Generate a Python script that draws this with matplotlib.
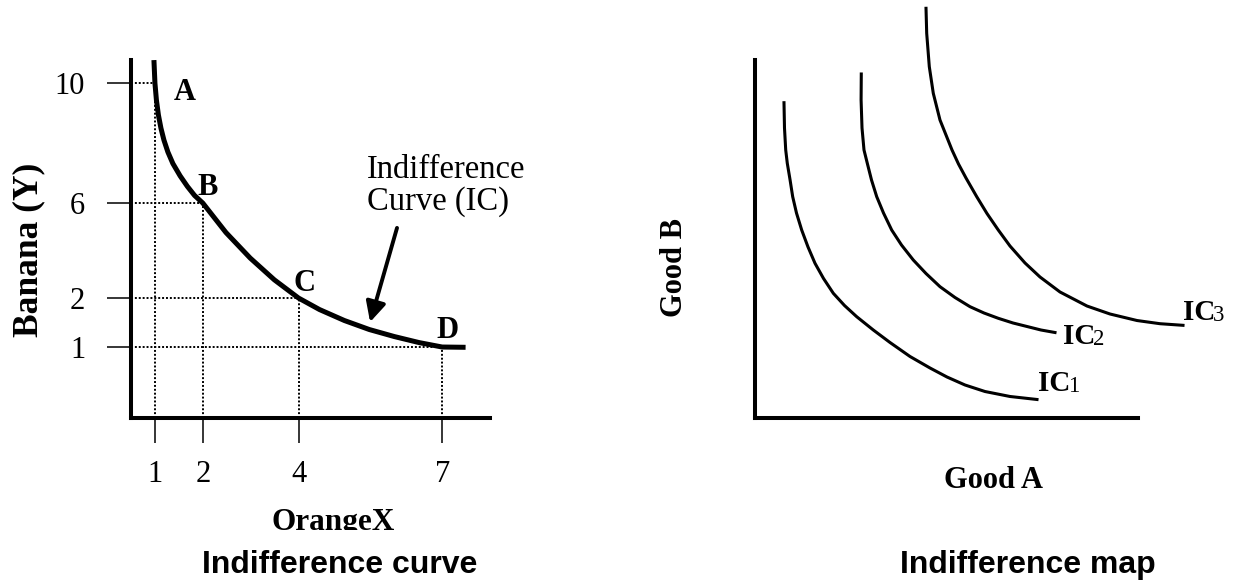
import numpy as np
import matplotlib.pyplot as plt
from matplotlib.transforms import Bbox, TransformedBbox

plt.rcParams['font.family'] = ['Liberation Serif', 'DejaVu Serif']

# --- left chart: one indifference curve with points A..D
point_names = ['A', 'B', 'C', 'D']
orange_x = [1, 2, 4, 7]
banana_y = [10, 6, 2, 1]

# curve
ic_x = [0.979, 1.0, 1.031, 1.073, 1.125, 1.188, 1.271, 1.375, 1.526, 1.677, 1.828, 2.0,
        2.484, 2.990, 3.495, 4.0, 4.438, 4.958, 5.479, 6.0, 6.521, 7.0, 7.49]
ic_y = [10.767, 10.0, 9.433, 8.933, 8.5, 8.1, 7.7, 7.317, 6.907, 6.557, 6.253, 6.0,
        4.758, 3.684, 2.766, 2.0, 1.765, 1.541, 1.357, 1.214, 1.09, 1.0, 0.996]

# --- right chart: indifference map (no units, traced)
ic1_x = [0.757, 0.770, 0.802, 0.843, 0.914, 0.984, 1.083, 1.219, 1.384, 1.567, 1.789, 2.045,
         2.337, 2.655, 3.089, 3.525, 4.047, 4.569, 5.013, 5.483, 6.005, 6.658, 7.363]
ic1_y = [8.807, 8.101, 7.486, 7.115, 6.662, 6.182, 5.726, 5.251, 4.777, 4.321, 3.897, 3.483,
         3.142, 2.830, 2.458, 2.109, 1.718, 1.397, 1.145, 0.922, 0.740, 0.601, 0.517]
ic2_x = [2.775, 2.770, 2.794, 2.846, 2.932, 3.042, 3.178, 3.355, 3.569, 3.825, 4.133, 4.465,
         4.830, 5.222, 5.614, 5.979, 6.352, 6.736, 7.102, 7.467, 7.833]
ic2_y = [9.609, 8.883, 8.101, 7.486, 7.115, 6.648, 6.182, 5.726, 5.251, 4.832, 4.413, 4.036,
         3.668, 3.366, 3.109, 2.933, 2.785, 2.654, 2.556, 2.458, 2.388]
ic3_x = [4.465, 4.483, 4.551, 4.655, 4.830, 4.987, 5.144, 5.313, 5.509, 5.789, 6.057, 6.352,
         6.658, 7.050, 7.441, 7.963, 8.668, 9.269, 9.974, 10.574, 11.175]
ic3_y = [11.444, 10.746, 9.813, 9.070, 8.324, 7.905, 7.486, 7.095, 6.704, 6.182, 5.712, 5.251,
         4.804, 4.330, 3.939, 3.520, 3.128, 2.905, 2.723, 2.634, 2.589]
map_labels = ['1', '2', '3']

# the banana axis in the drawing is not evenly spaced
y_knots = [0, 1, 2, 6, 10, 14]
y_place = [0, 71, 120, 215, 335, 455]


def fwd(v):
    return np.interp(v, y_knots, y_place)


def inv(p):
    return np.interp(p, y_place, y_knots)


W, H = 1234, 582
fig = plt.figure(figsize=(W / 100, H / 100), dpi=100)

sans = 'Liberation Sans'


def style_axes(ax):
    for s in ['top', 'right']:
        ax.spines[s].set_visible(False)
    for s in ['left', 'bottom']:
        ax.spines[s].set_linewidth(2.9)
        ax.spines[s].set_capstyle('projecting')
    ax.patch.set_visible(False)


def clipped_below(txt, y_pix):
    box = TransformedBbox(Bbox([[0, 1 - y_pix / H], [1, 1]]), fig.transFigure)
    txt.set_clip_box(box)
    txt.set_clip_on(True)


# ================= left: Indifference curve
ax1 = fig.add_axes([131 / W, (H - 418) / H, 359 / W, 358 / H])
style_axes(ax1)
ax1.set_yscale('function', functions=(fwd, inv))
ax1.set_xlim(0.5, 8.0)
ax1.set_ylim(0, 10.77)

ax1.plot(ic_x, ic_y, color='black', lw=3.6, solid_capstyle='butt',
         solid_joinstyle='round', clip_on=False)

# dotted guide lines
ax1.hlines(banana_y, 0.5, orange_x, colors='black', lw=1.4, linestyles=(0, (1, 1)))
ax1.vlines(orange_x, 0, banana_y, colors='black', lw=1.4, linestyles=(0, (1, 1)))

ax1.set_xticks(orange_x)
ax1.set_xticklabels([str(v) for v in orange_x])
ax1.set_yticks(banana_y)
ax1.set_yticklabels([str(v) for v in banana_y])
ax1.minorticks_off()
ax1.tick_params(axis='x', direction='out', length=18, width=1.1, pad=12, labelsize=22)
ax1.tick_params(axis='y', direction='out', length=17, width=1.1, pad=16, labelsize=22)

offsets = [(21.6, -6.5), (3.6, 11.5), (4.3, 10.8), (3.6, 12.2)]
for name, x, y, off in zip(point_names, orange_x, banana_y, offsets):
    ax1.annotate(name, xy=(x, y), xytext=off, textcoords='offset points',
                 ha='center', va='center', fontsize=22, fontweight='bold')

ax1.text(0.657, 0.648, 'Indifference\nCurve (IC)', transform=ax1.transAxes,
         ha='left', va='center', fontsize=23.5, linespacing=1.05)
ax1.annotate('', xy=(0.666, 0.268), xytext=(0.741, 0.531),
             xycoords='axes fraction', textcoords='axes fraction',
             arrowprops=dict(arrowstyle='-|>', color='black', lw=2.8,
                             mutation_scale=30, shrinkA=0, shrinkB=0))

ax1.set_xlabel('OrangeX', fontsize=22.5, fontweight='bold', va='baseline')
ax1.xaxis.set_label_coords(0.563, -0.313)
clipped_below(ax1.xaxis.label, 530)
ax1.set_ylabel('Banana (Y)', fontsize=25.5, fontweight='bold', va='center')
ax1.yaxis.set_label_coords(-0.284, 0.469)

# ================= right: Indifference map
ax2 = fig.add_axes([755 / W, (H - 418) / H, 383 / W, 358 / H])
style_axes(ax2)
ax2.set_xlim(0, 10)
ax2.set_ylim(0, 10)
ax2.set_xticks([])
ax2.set_yticks([])

curves = [(ic1_x, ic1_y), (ic2_x, ic2_y), (ic3_x, ic3_y)]
lab_off = [(0.7, 11.5), (5.8, -2.9), (0.0, 9.4)]
for (cx, cy), sub, off in zip(curves, map_labels, lab_off):
    ax2.plot(cx, cy, color='black', lw=2.2, solid_joinstyle='round', clip_on=False)
    t = ax2.annotate('IC', xy=(cx[-1], cy[-1]), xytext=off, textcoords='offset points',
                     ha='left', va='center', fontsize=21, fontweight='bold',
                     annotation_clip=False)
    ax2.annotate(sub, xy=(1, 0), xycoords=t, xytext=(-1.5, 0), textcoords='offset points',
                 ha='left', va='bottom', fontsize=16.5)

ax2.set_xlabel('Good A', fontsize=22, fontweight='bold', va='baseline')
ax2.xaxis.set_label_coords(0.624, -0.196)
clipped_below(ax2.xaxis.label, 488)
ax2.set_ylabel('Good B', fontsize=22, fontweight='bold', va='center')
ax2.yaxis.set_label_coords(-0.209, 0.419)

# panel titles
fig.text(340 / W, 1 - 565 / H, 'Indifference curve', family=sans, fontweight='bold',
         fontsize=23, ha='center', va='center')
fig.text(1028 / W, 1 - 565 / H, 'Indifference map', family=sans, fontweight='bold',
         fontsize=23, ha='center', va='center')

fig.savefig('out.png', dpi=100)
